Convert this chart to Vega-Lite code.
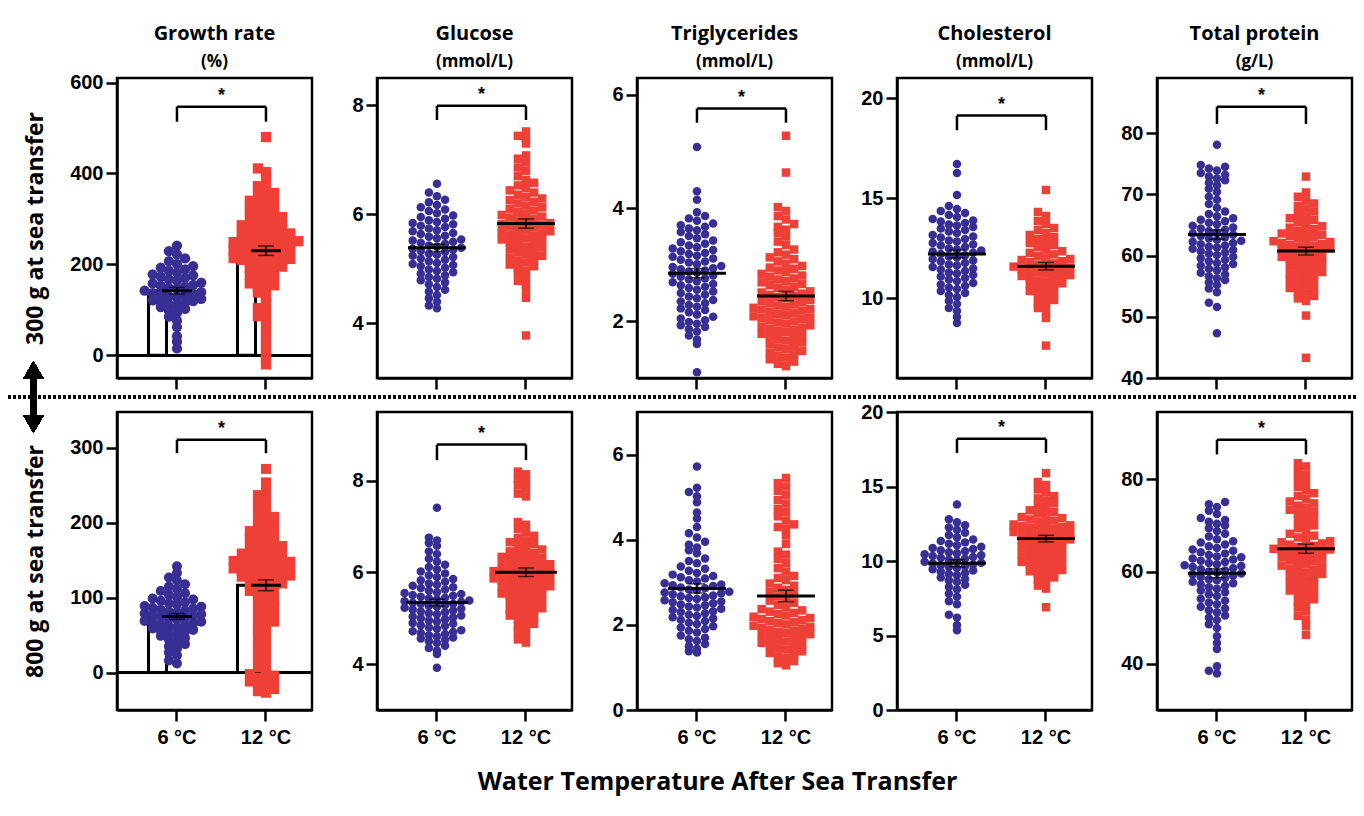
{
"$schema":"https://vega.github.io/schema/vega-lite/v6.json",
"background":"white",
"padding":{"left":5,"top":22,"right":6,"bottom":6},
"config":{
 "font":"Liberation Sans",
 "view":{"stroke":"black","strokeWidth":2.5},
 "axis":{"domainColor":"black","domainWidth":2.5,"tickColor":"black","tickWidth":2.5,"tickSize":11,"labelFont":"Liberation Sans","labelFontSize":20,"labelFontWeight":"bold","labelColor":"black","labelPadding":3,"grid":false,"titleFont":"Open Sans","titleFontWeight":"bold","titleColor":"black","titleFontSize":23},
 "axisX":{"labelAngle":0,"labelPadding":6},
 "title":{"font":"Open Sans","fontSize":20,"fontWeight":"bold","color":"black","subtitleFont":"Open Sans","subtitleFontSize":17,"subtitleFontWeight":"bold","subtitleColor":"black","offset":8,"subtitlePadding":10,"anchor":"middle","frame":"group"}
},
"datasets":{
"gr1":[{"t":"6","v":241},{"t":"6","v":222},{"t":"6","v":229},{"t":"6","v":201},{"t":"6","v":207},{"t":"6","v":213},{"t":"6","v":182},{"t":"6","v":186},{"t":"6","v":189},{"t":"6","v":193},{"t":"6","v":196},{"t":"6","v":164},{"t":"6","v":167},{"t":"6","v":170},{"t":"6","v":173},{"t":"6","v":176},{"t":"6","v":178},{"t":"6","v":146},{"t":"6","v":148},{"t":"6","v":151},{"t":"6","v":153},{"t":"6","v":155},{"t":"6","v":158},{"t":"6","v":160},{"t":"6","v":127},{"t":"6","v":129},{"t":"6","v":131},{"t":"6","v":133},{"t":"6","v":135},{"t":"6","v":137},{"t":"6","v":139},{"t":"6","v":142},{"t":"6","v":110},{"t":"6","v":112},{"t":"6","v":115},{"t":"6","v":117},{"t":"6","v":119},{"t":"6","v":121},{"t":"6","v":124},{"t":"6","v":93},{"t":"6","v":98},{"t":"6","v":102},{"t":"6","v":106},{"t":"6","v":76},{"t":"6","v":85},{"t":"6","v":62},{"t":"6","v":42},{"t":"6","v":30},{"t":"6","v":15},
{"t":"12","v":480},{"t":"12","v":403},{"t":"12","v":411},{"t":"12","v":386},{"t":"12","v":364},{"t":"12","v":372},{"t":"12","v":345},{"t":"12","v":351},{"t":"12","v":357},{"t":"12","v":326},{"t":"12","v":331},{"t":"12","v":336},{"t":"12","v":340},{"t":"12","v":308},{"t":"12","v":312},{"t":"12","v":317},{"t":"12","v":321},{"t":"12","v":290},{"t":"12","v":293},{"t":"12","v":297},{"t":"12","v":300},{"t":"12","v":304},{"t":"12","v":271},{"t":"12","v":274},{"t":"12","v":277},{"t":"12","v":280},{"t":"12","v":283},{"t":"12","v":286},{"t":"12","v":253},{"t":"12","v":256},{"t":"12","v":258},{"t":"12","v":261},{"t":"12","v":263},{"t":"12","v":266},{"t":"12","v":268},{"t":"12","v":235},{"t":"12","v":237},{"t":"12","v":239},{"t":"12","v":241},{"t":"12","v":243},{"t":"12","v":245},{"t":"12","v":247},{"t":"12","v":249},{"t":"12","v":251},{"t":"12","v":217},{"t":"12","v":219},{"t":"12","v":222},{"t":"12","v":224},{"t":"12","v":226},{"t":"12","v":228},{"t":"12","v":230},{"t":"12","v":232},{"t":"12","v":199},{"t":"12","v":201},{"t":"12","v":204},{"t":"12","v":206},{"t":"12","v":208},{"t":"12","v":210},{"t":"12","v":212},{"t":"12","v":214},{"t":"12","v":182},{"t":"12","v":186},{"t":"12","v":189},{"t":"12","v":192},{"t":"12","v":195},{"t":"12","v":164},{"t":"12","v":168},{"t":"12","v":172},{"t":"12","v":176},{"t":"12","v":146},{"t":"12","v":150},{"t":"12","v":154},{"t":"12","v":158},{"t":"12","v":130},{"t":"12","v":138},{"t":"12","v":117},{"t":"12","v":99},{"t":"12","v":104},{"t":"12","v":81},{"t":"12","v":86},{"t":"12","v":63},{"t":"12","v":45},{"t":"12","v":27},{"t":"12","v":9},{"t":"12","v":-5},{"t":"12","v":-20}],
"glu1":[{"t":"6","v":4.28},{"t":"6","v":4.33},{"t":"6","v":4.4},{"t":"6","v":4.46},{"t":"6","v":4.52},{"t":"6","v":4.58},{"t":"6","v":4.62},{"t":"6","v":4.67},{"t":"6","v":4.72},{"t":"6","v":4.75},{"t":"6","v":4.79},{"t":"6","v":4.82},{"t":"6","v":4.85},{"t":"6","v":4.88},{"t":"6","v":4.91},{"t":"6","v":4.94},{"t":"6","v":4.96},{"t":"6","v":4.99},{"t":"6","v":5.02},{"t":"6","v":5.05},{"t":"6","v":5.07},{"t":"6","v":5.09},{"t":"6","v":5.11},{"t":"6","v":5.14},{"t":"6","v":5.17},{"t":"6","v":5.19},{"t":"6","v":5.22},{"t":"6","v":5.24},{"t":"6","v":5.26},{"t":"6","v":5.28},{"t":"6","v":5.31},{"t":"6","v":5.33},{"t":"6","v":5.35},{"t":"6","v":5.37},{"t":"6","v":5.39},{"t":"6","v":5.41},{"t":"6","v":5.43},{"t":"6","v":5.46},{"t":"6","v":5.48},{"t":"6","v":5.5},{"t":"6","v":5.52},{"t":"6","v":5.54},{"t":"6","v":5.56},{"t":"6","v":5.59},{"t":"6","v":5.61},{"t":"6","v":5.64},{"t":"6","v":5.66},{"t":"6","v":5.69},{"t":"6","v":5.71},{"t":"6","v":5.74},{"t":"6","v":5.77},{"t":"6","v":5.79},{"t":"6","v":5.82},{"t":"6","v":5.84},{"t":"6","v":5.86},{"t":"6","v":5.89},{"t":"6","v":5.92},{"t":"6","v":5.95},{"t":"6","v":5.98},{"t":"6","v":6.02},{"t":"6","v":6.06},{"t":"6","v":6.09},{"t":"6","v":6.13},{"t":"6","v":6.17},{"t":"6","v":6.22},{"t":"6","v":6.27},{"t":"6","v":6.33},{"t":"6","v":6.4},{"t":"6","v":6.56},
{"t":"12","v":3.78},{"t":"12","v":4.47},{"t":"12","v":4.6},{"t":"12","v":4.72},{"t":"12","v":4.78},{"t":"12","v":4.85},{"t":"12","v":4.92},{"t":"12","v":4.97},{"t":"12","v":5.01},{"t":"12","v":5.05},{"t":"12","v":5.08},{"t":"12","v":5.12},{"t":"12","v":5.15},{"t":"12","v":5.18},{"t":"12","v":5.21},{"t":"12","v":5.24},{"t":"12","v":5.27},{"t":"12","v":5.3},{"t":"12","v":5.33},{"t":"12","v":5.36},{"t":"12","v":5.39},{"t":"12","v":5.41},{"t":"12","v":5.44},{"t":"12","v":5.47},{"t":"12","v":5.5},{"t":"12","v":5.52},{"t":"12","v":5.54},{"t":"12","v":5.56},{"t":"12","v":5.58},{"t":"12","v":5.61},{"t":"12","v":5.63},{"t":"12","v":5.65},{"t":"12","v":5.67},{"t":"12","v":5.69},{"t":"12","v":5.71},{"t":"12","v":5.73},{"t":"12","v":5.76},{"t":"12","v":5.78},{"t":"12","v":5.8},{"t":"12","v":5.82},{"t":"12","v":5.84},{"t":"12","v":5.86},{"t":"12","v":5.89},{"t":"12","v":5.91},{"t":"12","v":5.94},{"t":"12","v":5.96},{"t":"12","v":5.99},{"t":"12","v":6.01},{"t":"12","v":6.04},{"t":"12","v":6.07},{"t":"12","v":6.1},{"t":"12","v":6.13},{"t":"12","v":6.16},{"t":"12","v":6.2},{"t":"12","v":6.23},{"t":"12","v":6.26},{"t":"12","v":6.29},{"t":"12","v":6.32},{"t":"12","v":6.36},{"t":"12","v":6.4},{"t":"12","v":6.44},{"t":"12","v":6.48},{"t":"12","v":6.53},{"t":"12","v":6.58},{"t":"12","v":6.63},{"t":"12","v":6.7},{"t":"12","v":6.8},{"t":"12","v":6.86},{"t":"12","v":6.95},{"t":"12","v":7.02},{"t":"12","v":7.08},{"t":"12","v":7.3},{"t":"12","v":7.38},{"t":"12","v":7.44},{"t":"12","v":7.52}],
"tri1":[{"t":"6","v":5.08},{"t":"6","v":4.3},{"t":"6","v":4.15},{"t":"6","v":3.93},{"t":"6","v":3.78},{"t":"6","v":3.82},{"t":"6","v":3.86},{"t":"6","v":3.61},{"t":"6","v":3.64},{"t":"6","v":3.67},{"t":"6","v":3.7},{"t":"6","v":3.73},{"t":"6","v":3.47},{"t":"6","v":3.51},{"t":"6","v":3.54},{"t":"6","v":3.58},{"t":"6","v":3.31},{"t":"6","v":3.34},{"t":"6","v":3.37},{"t":"6","v":3.4},{"t":"6","v":3.43},{"t":"6","v":3.16},{"t":"6","v":3.19},{"t":"6","v":3.21},{"t":"6","v":3.24},{"t":"6","v":3.26},{"t":"6","v":3.29},{"t":"6","v":3.01},{"t":"6","v":3.04},{"t":"6","v":3.06},{"t":"6","v":3.09},{"t":"6","v":3.11},{"t":"6","v":3.14},{"t":"6","v":2.86},{"t":"6","v":2.88},{"t":"6","v":2.9},{"t":"6","v":2.92},{"t":"6","v":2.94},{"t":"6","v":2.96},{"t":"6","v":2.98},{"t":"6","v":2.71},{"t":"6","v":2.74},{"t":"6","v":2.76},{"t":"6","v":2.79},{"t":"6","v":2.81},{"t":"6","v":2.84},{"t":"6","v":2.56},{"t":"6","v":2.59},{"t":"6","v":2.61},{"t":"6","v":2.64},{"t":"6","v":2.66},{"t":"6","v":2.69},{"t":"6","v":2.41},{"t":"6","v":2.44},{"t":"6","v":2.47},{"t":"6","v":2.5},{"t":"6","v":2.53},{"t":"6","v":2.26},{"t":"6","v":2.29},{"t":"6","v":2.32},{"t":"6","v":2.35},{"t":"6","v":2.38},{"t":"6","v":2.12},{"t":"6","v":2.16},{"t":"6","v":2.2},{"t":"6","v":2.23},{"t":"6","v":1.96},{"t":"6","v":1.99},{"t":"6","v":2.02},{"t":"6","v":2.05},{"t":"6","v":2.08},{"t":"6","v":1.82},{"t":"6","v":1.86},{"t":"6","v":1.9},{"t":"6","v":1.93},{"t":"6","v":1.68},{"t":"6","v":1.75},{"t":"6","v":1.6},{"t":"6","v":1.1},
{"t":"12","v":5.28},{"t":"12","v":4.63},{"t":"12","v":3.95},{"t":"12","v":4.02},{"t":"12","v":3.8},{"t":"12","v":3.86},{"t":"12","v":3.62},{"t":"12","v":3.67},{"t":"12","v":3.72},{"t":"12","v":3.5},{"t":"12","v":3.56},{"t":"12","v":3.35},{"t":"12","v":3.41},{"t":"12","v":3.18},{"t":"12","v":3.22},{"t":"12","v":3.27},{"t":"12","v":3.02},{"t":"12","v":3.06},{"t":"12","v":3.1},{"t":"12","v":3.13},{"t":"12","v":2.87},{"t":"12","v":2.9},{"t":"12","v":2.93},{"t":"12","v":2.95},{"t":"12","v":2.98},{"t":"12","v":2.71},{"t":"12","v":2.74},{"t":"12","v":2.76},{"t":"12","v":2.79},{"t":"12","v":2.81},{"t":"12","v":2.84},{"t":"12","v":2.56},{"t":"12","v":2.59},{"t":"12","v":2.61},{"t":"12","v":2.64},{"t":"12","v":2.66},{"t":"12","v":2.69},{"t":"12","v":2.41},{"t":"12","v":2.43},{"t":"12","v":2.45},{"t":"12","v":2.47},{"t":"12","v":2.49},{"t":"12","v":2.51},{"t":"12","v":2.53},{"t":"12","v":2.26},{"t":"12","v":2.28},{"t":"12","v":2.3},{"t":"12","v":2.32},{"t":"12","v":2.34},{"t":"12","v":2.36},{"t":"12","v":2.38},{"t":"12","v":2.11},{"t":"12","v":2.13},{"t":"12","v":2.15},{"t":"12","v":2.17},{"t":"12","v":2.19},{"t":"12","v":2.21},{"t":"12","v":2.22},{"t":"12","v":2.24},{"t":"12","v":1.96},{"t":"12","v":1.98},{"t":"12","v":2.0},{"t":"12","v":2.02},{"t":"12","v":2.04},{"t":"12","v":2.06},{"t":"12","v":2.07},{"t":"12","v":2.09},{"t":"12","v":1.81},{"t":"12","v":1.83},{"t":"12","v":1.85},{"t":"12","v":1.87},{"t":"12","v":1.89},{"t":"12","v":1.91},{"t":"12","v":1.93},{"t":"12","v":1.66},{"t":"12","v":1.69},{"t":"12","v":1.71},{"t":"12","v":1.74},{"t":"12","v":1.76},{"t":"12","v":1.78},{"t":"12","v":1.51},{"t":"12","v":1.54},{"t":"12","v":1.57},{"t":"12","v":1.6},{"t":"12","v":1.63},{"t":"12","v":1.36},{"t":"12","v":1.39},{"t":"12","v":1.42},{"t":"12","v":1.45},{"t":"12","v":1.48},{"t":"12","v":1.21},{"t":"12","v":1.25},{"t":"12","v":1.29},{"t":"12","v":1.33}],
"cho1":[{"t":"6","v":16.7},{"t":"6","v":16.25},{"t":"6","v":15.15},{"t":"6","v":14.45},{"t":"6","v":14.6},{"t":"6","v":14.05},{"t":"6","v":14.15},{"t":"6","v":14.25},{"t":"6","v":14.35},{"t":"6","v":13.62},{"t":"6","v":13.68},{"t":"6","v":13.75},{"t":"6","v":13.82},{"t":"6","v":13.88},{"t":"6","v":13.95},{"t":"6","v":13.25},{"t":"6","v":13.32},{"t":"6","v":13.4},{"t":"6","v":13.47},{"t":"6","v":13.55},{"t":"6","v":12.82},{"t":"6","v":12.88},{"t":"6","v":12.95},{"t":"6","v":13.02},{"t":"6","v":13.08},{"t":"6","v":13.15},{"t":"6","v":12.42},{"t":"6","v":12.48},{"t":"6","v":12.55},{"t":"6","v":12.62},{"t":"6","v":12.68},{"t":"6","v":12.75},{"t":"6","v":12.02},{"t":"6","v":12.08},{"t":"6","v":12.14},{"t":"6","v":12.2},{"t":"6","v":12.26},{"t":"6","v":12.32},{"t":"6","v":12.38},{"t":"6","v":11.62},{"t":"6","v":11.68},{"t":"6","v":11.75},{"t":"6","v":11.82},{"t":"6","v":11.88},{"t":"6","v":11.95},{"t":"6","v":11.22},{"t":"6","v":11.28},{"t":"6","v":11.35},{"t":"6","v":11.42},{"t":"6","v":11.48},{"t":"6","v":11.55},{"t":"6","v":10.85},{"t":"6","v":10.92},{"t":"6","v":11.0},{"t":"6","v":11.08},{"t":"6","v":11.15},{"t":"6","v":10.45},{"t":"6","v":10.52},{"t":"6","v":10.6},{"t":"6","v":10.68},{"t":"6","v":10.75},{"t":"6","v":10.05},{"t":"6","v":10.15},{"t":"6","v":10.25},{"t":"6","v":10.35},{"t":"6","v":9.7},{"t":"6","v":9.85},{"t":"6","v":9.35},{"t":"6","v":9.5},{"t":"6","v":9.05},{"t":"6","v":8.75},
{"t":"12","v":15.4},{"t":"12","v":14.1},{"t":"12","v":14.3},{"t":"12","v":13.7},{"t":"12","v":13.85},{"t":"12","v":13.25},{"t":"12","v":13.4},{"t":"12","v":13.5},{"t":"12","v":12.85},{"t":"12","v":12.95},{"t":"12","v":13.05},{"t":"12","v":13.15},{"t":"12","v":12.45},{"t":"12","v":12.55},{"t":"12","v":12.65},{"t":"12","v":12.75},{"t":"12","v":12.03},{"t":"12","v":12.1},{"t":"12","v":12.18},{"t":"12","v":12.26},{"t":"12","v":12.34},{"t":"12","v":11.62},{"t":"12","v":11.67},{"t":"12","v":11.73},{"t":"12","v":11.79},{"t":"12","v":11.84},{"t":"12","v":11.9},{"t":"12","v":11.95},{"t":"12","v":11.22},{"t":"12","v":11.27},{"t":"12","v":11.32},{"t":"12","v":11.37},{"t":"12","v":11.42},{"t":"12","v":11.47},{"t":"12","v":11.52},{"t":"12","v":11.57},{"t":"12","v":10.82},{"t":"12","v":10.87},{"t":"12","v":10.93},{"t":"12","v":10.99},{"t":"12","v":11.04},{"t":"12","v":11.1},{"t":"12","v":11.15},{"t":"12","v":10.45},{"t":"12","v":10.53},{"t":"12","v":10.6},{"t":"12","v":10.67},{"t":"12","v":10.74},{"t":"12","v":10.05},{"t":"12","v":10.15},{"t":"12","v":10.25},{"t":"12","v":10.35},{"t":"12","v":9.7},{"t":"12","v":9.8},{"t":"12","v":9.9},{"t":"12","v":9.3},{"t":"12","v":9.5},{"t":"12","v":9.0},{"t":"12","v":7.62}],
"pro1":[{"t":"6","v":78.1},{"t":"6","v":73.9},{"t":"6","v":74.2},{"t":"6","v":74.5},{"t":"6","v":74.8},{"t":"6","v":72.6},{"t":"6","v":72.9},{"t":"6","v":73.2},{"t":"6","v":73.5},{"t":"6","v":71.5},{"t":"6","v":71.9},{"t":"6","v":72.3},{"t":"6","v":70.4},{"t":"6","v":70.9},{"t":"6","v":69.1},{"t":"6","v":69.6},{"t":"6","v":67.8},{"t":"6","v":68.4},{"t":"6","v":66.4},{"t":"6","v":66.8},{"t":"6","v":67.2},{"t":"6","v":65.1},{"t":"6","v":65.35},{"t":"6","v":65.6},{"t":"6","v":65.85},{"t":"6","v":66.1},{"t":"6","v":63.8},{"t":"6","v":64},{"t":"6","v":64.2},{"t":"6","v":64.4},{"t":"6","v":64.6},{"t":"6","v":64.85},{"t":"6","v":62.6},{"t":"6","v":62.8},{"t":"6","v":63},{"t":"6","v":63.2},{"t":"6","v":63.4},{"t":"6","v":63.6},{"t":"6","v":61.3},{"t":"6","v":61.45},{"t":"6","v":61.65},{"t":"6","v":61.85},{"t":"6","v":62.05},{"t":"6","v":62.25},{"t":"6","v":62.4},{"t":"6","v":60.1},{"t":"6","v":60.3},{"t":"6","v":60.5},{"t":"6","v":60.7},{"t":"6","v":60.9},{"t":"6","v":61.1},{"t":"6","v":58.8},{"t":"6","v":59.05},{"t":"6","v":59.3},{"t":"6","v":59.55},{"t":"6","v":59.8},{"t":"6","v":57.6},{"t":"6","v":57.85},{"t":"6","v":58.1},{"t":"6","v":58.35},{"t":"6","v":58.6},{"t":"6","v":56.3},{"t":"6","v":56.6},{"t":"6","v":56.9},{"t":"6","v":57.2},{"t":"6","v":55.2},{"t":"6","v":55.6},{"t":"6","v":56},{"t":"6","v":54},{"t":"6","v":54.6},{"t":"6","v":51.6},{"t":"6","v":52.3},{"t":"6","v":47.3},
{"t":"12","v":72.9},{"t":"12","v":70.3},{"t":"12","v":69},{"t":"12","v":69.6},{"t":"12","v":67.7},{"t":"12","v":68.1},{"t":"12","v":68.5},{"t":"12","v":66.4},{"t":"12","v":66.8},{"t":"12","v":67.2},{"t":"12","v":65.1},{"t":"12","v":65.45},{"t":"12","v":65.8},{"t":"12","v":66.1},{"t":"12","v":63.8},{"t":"12","v":64.05},{"t":"12","v":64.3},{"t":"12","v":64.55},{"t":"12","v":64.8},{"t":"12","v":62.6},{"t":"12","v":62.8},{"t":"12","v":63},{"t":"12","v":63.2},{"t":"12","v":63.4},{"t":"12","v":63.6},{"t":"12","v":61.3},{"t":"12","v":61.45},{"t":"12","v":61.6},{"t":"12","v":61.75},{"t":"12","v":61.9},{"t":"12","v":62.05},{"t":"12","v":62.2},{"t":"12","v":62.35},{"t":"12","v":60.1},{"t":"12","v":60.25},{"t":"12","v":60.45},{"t":"12","v":60.65},{"t":"12","v":60.85},{"t":"12","v":61},{"t":"12","v":61.15},{"t":"12","v":58.8},{"t":"12","v":59},{"t":"12","v":59.2},{"t":"12","v":59.4},{"t":"12","v":59.6},{"t":"12","v":59.8},{"t":"12","v":57.6},{"t":"12","v":57.85},{"t":"12","v":58.1},{"t":"12","v":58.35},{"t":"12","v":58.6},{"t":"12","v":56.3},{"t":"12","v":56.55},{"t":"12","v":56.8},{"t":"12","v":57.05},{"t":"12","v":57.3},{"t":"12","v":55.1},{"t":"12","v":55.4},{"t":"12","v":55.7},{"t":"12","v":56},{"t":"12","v":53.8},{"t":"12","v":54.1},{"t":"12","v":54.4},{"t":"12","v":54.7},{"t":"12","v":52.6},{"t":"12","v":53},{"t":"12","v":53.4},{"t":"12","v":50.2},{"t":"12","v":43.3}],
"gr2":[{"t":"6","v":142},{"t":"6","v":133},{"t":"6","v":123},{"t":"6","v":127},{"t":"6","v":112},{"t":"6","v":115},{"t":"6","v":118},{"t":"6","v":101},{"t":"6","v":104},{"t":"6","v":106},{"t":"6","v":109},{"t":"6","v":91},{"t":"6","v":92.5},{"t":"6","v":94},{"t":"6","v":96},{"t":"6","v":97.5},{"t":"6","v":99},{"t":"6","v":80.5},{"t":"6","v":81.5},{"t":"6","v":83},{"t":"6","v":84},{"t":"6","v":85.5},{"t":"6","v":86.5},{"t":"6","v":88},{"t":"6","v":89},{"t":"6","v":70.5},{"t":"6","v":71.5},{"t":"6","v":73},{"t":"6","v":74},{"t":"6","v":75.5},{"t":"6","v":76.5},{"t":"6","v":78},{"t":"6","v":79},{"t":"6","v":60.5},{"t":"6","v":61.5},{"t":"6","v":63},{"t":"6","v":64},{"t":"6","v":65.5},{"t":"6","v":66.5},{"t":"6","v":68},{"t":"6","v":69},{"t":"6","v":51},{"t":"6","v":53},{"t":"6","v":55},{"t":"6","v":56},{"t":"6","v":57},{"t":"6","v":59},{"t":"6","v":41},{"t":"6","v":44},{"t":"6","v":46},{"t":"6","v":49},{"t":"6","v":32},{"t":"6","v":35},{"t":"6","v":38},{"t":"6","v":23},{"t":"6","v":27},{"t":"6","v":12},{"t":"6","v":16},
{"t":"12","v":272},{"t":"12","v":254},{"t":"12","v":245},{"t":"12","v":232},{"t":"12","v":237},{"t":"12","v":222},{"t":"12","v":227},{"t":"12","v":212},{"t":"12","v":217},{"t":"12","v":201},{"t":"12","v":204},{"t":"12","v":208},{"t":"12","v":191},{"t":"12","v":194},{"t":"12","v":198},{"t":"12","v":181},{"t":"12","v":184},{"t":"12","v":186},{"t":"12","v":189},{"t":"12","v":171},{"t":"12","v":174},{"t":"12","v":176},{"t":"12","v":179},{"t":"12","v":161},{"t":"12","v":163},{"t":"12","v":165},{"t":"12","v":167},{"t":"12","v":169},{"t":"12","v":151},{"t":"12","v":152.5},{"t":"12","v":154},{"t":"12","v":156},{"t":"12","v":157.5},{"t":"12","v":159},{"t":"12","v":140.5},{"t":"12","v":141.5},{"t":"12","v":143},{"t":"12","v":144},{"t":"12","v":145.5},{"t":"12","v":146.5},{"t":"12","v":148},{"t":"12","v":149},{"t":"12","v":130.5},{"t":"12","v":131.5},{"t":"12","v":133},{"t":"12","v":134},{"t":"12","v":135.5},{"t":"12","v":136.5},{"t":"12","v":138},{"t":"12","v":139},{"t":"12","v":121},{"t":"12","v":122.5},{"t":"12","v":124},{"t":"12","v":125.5},{"t":"12","v":127},{"t":"12","v":128},{"t":"12","v":129.5},{"t":"12","v":111},{"t":"12","v":113},{"t":"12","v":115},{"t":"12","v":117},{"t":"12","v":119},{"t":"12","v":101},{"t":"12","v":104},{"t":"12","v":106},{"t":"12","v":109},{"t":"12","v":92},{"t":"12","v":95},{"t":"12","v":98},{"t":"12","v":82},{"t":"12","v":85},{"t":"12","v":88},{"t":"12","v":72},{"t":"12","v":75},{"t":"12","v":78},{"t":"12","v":62},{"t":"12","v":65},{"t":"12","v":68},{"t":"12","v":53},{"t":"12","v":57},{"t":"12","v":43},{"t":"12","v":47},{"t":"12","v":33},{"t":"12","v":37},{"t":"12","v":23},{"t":"12","v":27},{"t":"12","v":13},{"t":"12","v":17},{"t":"12","v":3},{"t":"12","v":7},{"t":"12","v":-9},{"t":"12","v":-7},{"t":"12","v":-4},{"t":"12","v":-2},{"t":"12","v":-19},{"t":"12","v":-17},{"t":"12","v":-14},{"t":"12","v":-12},{"t":"12","v":-27},{"t":"12","v":-25},{"t":"12","v":-22}],
"glu2":[{"t":"6","v":7.41},{"t":"6","v":6.7},{"t":"6","v":6.76},{"t":"6","v":6.58},{"t":"6","v":6.64},{"t":"6","v":6.4},{"t":"6","v":6.46},{"t":"6","v":6.24},{"t":"6","v":6.3},{"t":"6","v":6.07},{"t":"6","v":6.12},{"t":"6","v":6.17},{"t":"6","v":5.9},{"t":"6","v":5.94},{"t":"6","v":5.98},{"t":"6","v":6.02},{"t":"6","v":5.73},{"t":"6","v":5.76},{"t":"6","v":5.8},{"t":"6","v":5.83},{"t":"6","v":5.86},{"t":"6","v":5.57},{"t":"6","v":5.6},{"t":"6","v":5.63},{"t":"6","v":5.66},{"t":"6","v":5.68},{"t":"6","v":5.71},{"t":"6","v":5.41},{"t":"6","v":5.43},{"t":"6","v":5.45},{"t":"6","v":5.47},{"t":"6","v":5.49},{"t":"6","v":5.51},{"t":"6","v":5.53},{"t":"6","v":5.55},{"t":"6","v":5.25},{"t":"6","v":5.27},{"t":"6","v":5.29},{"t":"6","v":5.31},{"t":"6","v":5.32},{"t":"6","v":5.34},{"t":"6","v":5.36},{"t":"6","v":5.37},{"t":"6","v":5.39},{"t":"6","v":5.09},{"t":"6","v":5.11},{"t":"6","v":5.13},{"t":"6","v":5.15},{"t":"6","v":5.17},{"t":"6","v":5.19},{"t":"6","v":5.21},{"t":"6","v":5.23},{"t":"6","v":4.93},{"t":"6","v":4.95},{"t":"6","v":4.98},{"t":"6","v":5.0},{"t":"6","v":5.02},{"t":"6","v":5.04},{"t":"6","v":5.06},{"t":"6","v":4.77},{"t":"6","v":4.8},{"t":"6","v":4.83},{"t":"6","v":4.85},{"t":"6","v":4.88},{"t":"6","v":4.9},{"t":"6","v":4.61},{"t":"6","v":4.63},{"t":"6","v":4.66},{"t":"6","v":4.68},{"t":"6","v":4.7},{"t":"6","v":4.72},{"t":"6","v":4.74},{"t":"6","v":4.46},{"t":"6","v":4.5},{"t":"6","v":4.53},{"t":"6","v":4.56},{"t":"6","v":4.58},{"t":"6","v":4.3},{"t":"6","v":4.35},{"t":"6","v":4.4},{"t":"6","v":4.22},{"t":"6","v":3.92},
{"t":"12","v":8.14},{"t":"12","v":8.2},{"t":"12","v":7.98},{"t":"12","v":8.05},{"t":"12","v":7.83},{"t":"12","v":7.9},{"t":"12","v":7.66},{"t":"12","v":7.72},{"t":"12","v":7.04},{"t":"12","v":7.1},{"t":"12","v":6.88},{"t":"12","v":6.95},{"t":"12","v":6.7},{"t":"12","v":6.75},{"t":"12","v":6.8},{"t":"12","v":6.54},{"t":"12","v":6.58},{"t":"12","v":6.62},{"t":"12","v":6.66},{"t":"12","v":6.37},{"t":"12","v":6.4},{"t":"12","v":6.43},{"t":"12","v":6.46},{"t":"12","v":6.5},{"t":"12","v":6.21},{"t":"12","v":6.24},{"t":"12","v":6.27},{"t":"12","v":6.3},{"t":"12","v":6.32},{"t":"12","v":6.34},{"t":"12","v":6.05},{"t":"12","v":6.07},{"t":"12","v":6.1},{"t":"12","v":6.12},{"t":"12","v":6.14},{"t":"12","v":6.16},{"t":"12","v":6.18},{"t":"12","v":5.89},{"t":"12","v":5.91},{"t":"12","v":5.93},{"t":"12","v":5.95},{"t":"12","v":5.97},{"t":"12","v":5.99},{"t":"12","v":6.01},{"t":"12","v":6.03},{"t":"12","v":5.73},{"t":"12","v":5.75},{"t":"12","v":5.77},{"t":"12","v":5.79},{"t":"12","v":5.81},{"t":"12","v":5.83},{"t":"12","v":5.85},{"t":"12","v":5.87},{"t":"12","v":5.57},{"t":"12","v":5.59},{"t":"12","v":5.62},{"t":"12","v":5.64},{"t":"12","v":5.66},{"t":"12","v":5.68},{"t":"12","v":5.7},{"t":"12","v":5.41},{"t":"12","v":5.44},{"t":"12","v":5.47},{"t":"12","v":5.49},{"t":"12","v":5.52},{"t":"12","v":5.54},{"t":"12","v":5.26},{"t":"12","v":5.29},{"t":"12","v":5.32},{"t":"12","v":5.35},{"t":"12","v":5.38},{"t":"12","v":5.1},{"t":"12","v":5.13},{"t":"12","v":5.16},{"t":"12","v":5.19},{"t":"12","v":5.22},{"t":"12","v":4.94},{"t":"12","v":4.98},{"t":"12","v":5.02},{"t":"12","v":5.06},{"t":"12","v":4.78},{"t":"12","v":4.83},{"t":"12","v":4.88},{"t":"12","v":4.64},{"t":"12","v":4.7},{"t":"12","v":4.47},{"t":"12","v":4.54}],
"tri2":[{"t":"6","v":5.72},{"t":"6","v":5.22},{"t":"6","v":5.02},{"t":"6","v":5.12},{"t":"6","v":4.88},{"t":"6","v":4.64},{"t":"6","v":4.5},{"t":"6","v":4.3},{"t":"6","v":4.05},{"t":"6","v":4.15},{"t":"6","v":3.82},{"t":"6","v":3.88},{"t":"6","v":3.95},{"t":"6","v":3.68},{"t":"6","v":3.75},{"t":"6","v":3.45},{"t":"6","v":3.5},{"t":"6","v":3.56},{"t":"6","v":3.22},{"t":"6","v":3.27},{"t":"6","v":3.32},{"t":"6","v":3.37},{"t":"6","v":3.02},{"t":"6","v":3.05},{"t":"6","v":3.09},{"t":"6","v":3.12},{"t":"6","v":3.15},{"t":"6","v":3.18},{"t":"6","v":2.81},{"t":"6","v":2.83},{"t":"6","v":2.86},{"t":"6","v":2.88},{"t":"6","v":2.91},{"t":"6","v":2.93},{"t":"6","v":2.95},{"t":"6","v":2.98},{"t":"6","v":2.61},{"t":"6","v":2.63},{"t":"6","v":2.65},{"t":"6","v":2.67},{"t":"6","v":2.69},{"t":"6","v":2.72},{"t":"6","v":2.74},{"t":"6","v":2.76},{"t":"6","v":2.78},{"t":"6","v":2.41},{"t":"6","v":2.43},{"t":"6","v":2.46},{"t":"6","v":2.48},{"t":"6","v":2.51},{"t":"6","v":2.53},{"t":"6","v":2.55},{"t":"6","v":2.58},{"t":"6","v":2.21},{"t":"6","v":2.24},{"t":"6","v":2.27},{"t":"6","v":2.3},{"t":"6","v":2.32},{"t":"6","v":2.35},{"t":"6","v":2.38},{"t":"6","v":2.02},{"t":"6","v":2.05},{"t":"6","v":2.09},{"t":"6","v":2.12},{"t":"6","v":2.15},{"t":"6","v":2.18},{"t":"6","v":1.82},{"t":"6","v":1.86},{"t":"6","v":1.9},{"t":"6","v":1.94},{"t":"6","v":1.97},{"t":"6","v":1.62},{"t":"6","v":1.66},{"t":"6","v":1.7},{"t":"6","v":1.75},{"t":"6","v":1.44},{"t":"6","v":1.5},{"t":"6","v":1.55},{"t":"6","v":1.35},{"t":"6","v":1.38},
{"t":"12","v":5.45},{"t":"12","v":5.25},{"t":"12","v":5.33},{"t":"12","v":5.05},{"t":"12","v":5.15},{"t":"12","v":4.85},{"t":"12","v":4.93},{"t":"12","v":4.65},{"t":"12","v":4.72},{"t":"12","v":4.45},{"t":"12","v":4.55},{"t":"12","v":4.25},{"t":"12","v":4.3},{"t":"12","v":4.36},{"t":"12","v":4.1},{"t":"12","v":3.9},{"t":"12","v":3.65},{"t":"12","v":3.72},{"t":"12","v":3.45},{"t":"12","v":3.55},{"t":"12","v":3.25},{"t":"12","v":3.33},{"t":"12","v":3.05},{"t":"12","v":3.1},{"t":"12","v":3.15},{"t":"12","v":2.82},{"t":"12","v":2.87},{"t":"12","v":2.92},{"t":"12","v":2.97},{"t":"12","v":2.62},{"t":"12","v":2.67},{"t":"12","v":2.72},{"t":"12","v":2.77},{"t":"12","v":2.42},{"t":"12","v":2.47},{"t":"12","v":2.52},{"t":"12","v":2.57},{"t":"12","v":2.22},{"t":"12","v":2.25},{"t":"12","v":2.28},{"t":"12","v":2.31},{"t":"12","v":2.34},{"t":"12","v":2.37},{"t":"12","v":2.01},{"t":"12","v":2.04},{"t":"12","v":2.06},{"t":"12","v":2.09},{"t":"12","v":2.11},{"t":"12","v":2.14},{"t":"12","v":2.16},{"t":"12","v":2.19},{"t":"12","v":1.81},{"t":"12","v":1.83},{"t":"12","v":1.86},{"t":"12","v":1.88},{"t":"12","v":1.91},{"t":"12","v":1.93},{"t":"12","v":1.95},{"t":"12","v":1.98},{"t":"12","v":1.61},{"t":"12","v":1.64},{"t":"12","v":1.67},{"t":"12","v":1.7},{"t":"12","v":1.72},{"t":"12","v":1.75},{"t":"12","v":1.78},{"t":"12","v":1.42},{"t":"12","v":1.45},{"t":"12","v":1.48},{"t":"12","v":1.52},{"t":"12","v":1.55},{"t":"12","v":1.58},{"t":"12","v":1.22},{"t":"12","v":1.26},{"t":"12","v":1.3},{"t":"12","v":1.34},{"t":"12","v":1.38},{"t":"12","v":1.05},{"t":"12","v":1.1},{"t":"12","v":1.15}],
"cho2":[{"t":"6","v":13.8},{"t":"6","v":12.6},{"t":"6","v":12.8},{"t":"6","v":12.1},{"t":"6","v":12.25},{"t":"6","v":12.4},{"t":"6","v":11.6},{"t":"6","v":11.75},{"t":"6","v":11.9},{"t":"6","v":11.05},{"t":"6","v":11.15},{"t":"6","v":11.25},{"t":"6","v":11.35},{"t":"6","v":11.45},{"t":"6","v":10.52},{"t":"6","v":10.58},{"t":"6","v":10.65},{"t":"6","v":10.72},{"t":"6","v":10.8},{"t":"6","v":10.88},{"t":"6","v":10.95},{"t":"6","v":10.03},{"t":"6","v":10.09},{"t":"6","v":10.15},{"t":"6","v":10.21},{"t":"6","v":10.27},{"t":"6","v":10.33},{"t":"6","v":10.39},{"t":"6","v":10.45},{"t":"6","v":9.53},{"t":"6","v":9.59},{"t":"6","v":9.65},{"t":"6","v":9.71},{"t":"6","v":9.77},{"t":"6","v":9.83},{"t":"6","v":9.89},{"t":"6","v":9.95},{"t":"6","v":9.05},{"t":"6","v":9.12},{"t":"6","v":9.2},{"t":"6","v":9.28},{"t":"6","v":9.36},{"t":"6","v":9.44},{"t":"6","v":8.6},{"t":"6","v":8.7},{"t":"6","v":8.8},{"t":"6","v":8.9},{"t":"6","v":8.1},{"t":"6","v":8.25},{"t":"6","v":8.4},{"t":"6","v":7.6},{"t":"6","v":7.8},{"t":"6","v":7.1},{"t":"6","v":7.3},{"t":"6","v":6.2},{"t":"6","v":6.4},{"t":"6","v":5.7},{"t":"6","v":5.35},
{"t":"12","v":15.9},{"t":"12","v":15.1},{"t":"12","v":15.3},{"t":"12","v":14.6},{"t":"12","v":14.8},{"t":"12","v":14.05},{"t":"12","v":14.2},{"t":"12","v":14.35},{"t":"12","v":13.6},{"t":"12","v":13.75},{"t":"12","v":13.9},{"t":"12","v":13.1},{"t":"12","v":13.2},{"t":"12","v":13.3},{"t":"12","v":13.4},{"t":"12","v":12.55},{"t":"12","v":12.63},{"t":"12","v":12.71},{"t":"12","v":12.79},{"t":"12","v":12.87},{"t":"12","v":12.95},{"t":"12","v":12.03},{"t":"12","v":12.09},{"t":"12","v":12.15},{"t":"12","v":12.21},{"t":"12","v":12.27},{"t":"12","v":12.33},{"t":"12","v":12.39},{"t":"12","v":12.45},{"t":"12","v":11.53},{"t":"12","v":11.59},{"t":"12","v":11.65},{"t":"12","v":11.71},{"t":"12","v":11.77},{"t":"12","v":11.83},{"t":"12","v":11.89},{"t":"12","v":11.95},{"t":"12","v":11.04},{"t":"12","v":11.1},{"t":"12","v":11.17},{"t":"12","v":11.24},{"t":"12","v":11.31},{"t":"12","v":11.38},{"t":"12","v":11.45},{"t":"12","v":10.55},{"t":"12","v":10.62},{"t":"12","v":10.7},{"t":"12","v":10.78},{"t":"12","v":10.86},{"t":"12","v":10.94},{"t":"12","v":10.04},{"t":"12","v":10.12},{"t":"12","v":10.2},{"t":"12","v":10.28},{"t":"12","v":10.36},{"t":"12","v":10.44},{"t":"12","v":9.54},{"t":"12","v":9.62},{"t":"12","v":9.7},{"t":"12","v":9.78},{"t":"12","v":9.86},{"t":"12","v":9.94},{"t":"12","v":9.04},{"t":"12","v":9.13},{"t":"12","v":9.22},{"t":"12","v":9.31},{"t":"12","v":9.4},{"t":"12","v":8.6},{"t":"12","v":8.75},{"t":"12","v":8.9},{"t":"12","v":8.15},{"t":"12","v":8.35},{"t":"12","v":6.9}],
"pro2":[{"t":"6","v":74},{"t":"6","v":74.6},{"t":"6","v":75.1},{"t":"6","v":72.5},{"t":"6","v":73.2},{"t":"6","v":70.4},{"t":"6","v":70.8},{"t":"6","v":71.2},{"t":"6","v":71.6},{"t":"6","v":68.8},{"t":"6","v":69.4},{"t":"6","v":70},{"t":"6","v":67},{"t":"6","v":67.6},{"t":"6","v":68.2},{"t":"6","v":65.1},{"t":"6","v":65.5},{"t":"6","v":65.9},{"t":"6","v":66.3},{"t":"6","v":66.6},{"t":"6","v":63.3},{"t":"6","v":63.6},{"t":"6","v":63.9},{"t":"6","v":64.2},{"t":"6","v":64.5},{"t":"6","v":64.8},{"t":"6","v":61.6},{"t":"6","v":61.85},{"t":"6","v":62.1},{"t":"6","v":62.35},{"t":"6","v":62.6},{"t":"6","v":62.85},{"t":"6","v":63.1},{"t":"6","v":59.8},{"t":"6","v":60},{"t":"6","v":60.25},{"t":"6","v":60.5},{"t":"6","v":60.75},{"t":"6","v":61},{"t":"6","v":61.2},{"t":"6","v":61.4},{"t":"6","v":58.1},{"t":"6","v":58.35},{"t":"6","v":58.6},{"t":"6","v":58.85},{"t":"6","v":59.1},{"t":"6","v":59.35},{"t":"6","v":59.6},{"t":"6","v":56.3},{"t":"6","v":56.6},{"t":"6","v":56.9},{"t":"6","v":57.2},{"t":"6","v":57.5},{"t":"6","v":57.8},{"t":"6","v":54.7},{"t":"6","v":55.1},{"t":"6","v":55.5},{"t":"6","v":55.9},{"t":"6","v":52.9},{"t":"6","v":53.3},{"t":"6","v":53.7},{"t":"6","v":54.1},{"t":"6","v":51.2},{"t":"6","v":51.6},{"t":"6","v":52},{"t":"6","v":52.4},{"t":"6","v":49.5},{"t":"6","v":50},{"t":"6","v":50.5},{"t":"6","v":47.8},{"t":"6","v":48.6},{"t":"6","v":46},{"t":"6","v":44.5},{"t":"6","v":43.2},{"t":"6","v":39.5},{"t":"6","v":37.9},{"t":"6","v":38.5},
{"t":"12","v":82.8},{"t":"12","v":83.5},{"t":"12","v":81},{"t":"12","v":81.8},{"t":"12","v":79.3},{"t":"12","v":80.1},{"t":"12","v":77.6},{"t":"12","v":78.4},{"t":"12","v":75.8},{"t":"12","v":76.4},{"t":"12","v":77},{"t":"12","v":73.9},{"t":"12","v":74.3},{"t":"12","v":74.8},{"t":"12","v":75.2},{"t":"12","v":72.2},{"t":"12","v":72.6},{"t":"12","v":73},{"t":"12","v":73.4},{"t":"12","v":70.5},{"t":"12","v":71.1},{"t":"12","v":71.7},{"t":"12","v":68.8},{"t":"12","v":69.4},{"t":"12","v":70},{"t":"12","v":67},{"t":"12","v":67.4},{"t":"12","v":67.8},{"t":"12","v":68.2},{"t":"12","v":65.1},{"t":"12","v":65.35},{"t":"12","v":65.6},{"t":"12","v":65.85},{"t":"12","v":66.1},{"t":"12","v":66.35},{"t":"12","v":66.6},{"t":"12","v":63.3},{"t":"12","v":63.55},{"t":"12","v":63.8},{"t":"12","v":64.05},{"t":"12","v":64.3},{"t":"12","v":64.55},{"t":"12","v":64.8},{"t":"12","v":64.95},{"t":"12","v":61.6},{"t":"12","v":61.9},{"t":"12","v":62.2},{"t":"12","v":62.5},{"t":"12","v":62.8},{"t":"12","v":63.1},{"t":"12","v":59.8},{"t":"12","v":60.1},{"t":"12","v":60.4},{"t":"12","v":60.7},{"t":"12","v":61},{"t":"12","v":61.3},{"t":"12","v":58.1},{"t":"12","v":58.45},{"t":"12","v":58.8},{"t":"12","v":59.15},{"t":"12","v":59.5},{"t":"12","v":56.4},{"t":"12","v":56.8},{"t":"12","v":57.2},{"t":"12","v":57.6},{"t":"12","v":54.7},{"t":"12","v":55.1},{"t":"12","v":55.5},{"t":"12","v":55.9},{"t":"12","v":53},{"t":"12","v":53.5},{"t":"12","v":54},{"t":"12","v":51.4},{"t":"12","v":52.2},{"t":"12","v":49.6},{"t":"12","v":50.4},{"t":"12","v":48.2},{"t":"12","v":46.3}]
},
"columns":5,
"bounds":"flush",
"spacing":{"row":34,"column":65},
"concat":[
{"width":195,"height":300,"title":{"text":"Growth rate","subtitle":"(%)","offset":2.5},"data":{"name":"gr1"},
 "layer":[
  {"mark":{"type":"bar","fill":"white","stroke":"black","strokeWidth":3,"width":{"band":0.64}},
   "encoding":{"x":{"field":"t","type":"nominal","scale":{"domain":["6","12"],"paddingInner":0,"paddingOuter":0.0955,"align":0.91},"axis":{"labels":false,"title":null}},
    "y":{"aggregate":"mean","field":"v","type":"quantitative","title":"300 g at sea transfer","scale":{"domain":[-50,610],"nice":false,"zero":false},"axis":{"values":[0,200,400,600],"format":"d","titlePadding":22}}}},
  {"mark":{"type":"rule","color":"black","strokeWidth":2.5},"encoding":{"y":{"datum":0}}},
  {"transform":[{"bin":{"step":18,"extent":[-54,612],"nice":false},"field":"v","as":"vb"},{"window":[{"op":"row_number","as":"k"}],"groupby":["t","vb"],"sort":[{"field":"v"}]}],
   "mark":{"type":"point","filled":true,"opacity":1,"size":105,"strokeWidth":0},
   "encoding":{"x":{"field":"t","type":"nominal"},"xOffset":{"field":"k","type":"nominal","scale":{"domain":[10,8,6,4,2,1,3,5,7,9,11]}},"y":{"field":"v","type":"quantitative","title":"300 g at sea transfer"},
    "color":{"field":"t","type":"nominal","scale":{"domain":["6","12"],"range":["#372f93","#ee4036"]},"legend":null},
    "shape":{"field":"t","type":"nominal","scale":{"domain":["6","12"],"range":["circle","square"]},"legend":null}}},
  {"mark":{"type":"errorbar","extent":"stderr","color":"black","thickness":1.5,"ticks":{"size":16}},"encoding":{"x":{"field":"t","type":"nominal"},"y":{"field":"v","type":"quantitative","title":"300 g at sea transfer"}}},
  {"mark":{"type":"tick","color":"black","thickness":3,"size":30},"encoding":{"x":{"field":"t","type":"nominal"},"y":{"aggregate":"mean","field":"v","type":"quantitative","title":"300 g at sea transfer"}}},
  {"data":{"values":[{"a":"6","b":"12","y":547,"y0":514}]},"layer":[
   {"mark":{"type":"rule","color":"black","strokeWidth":2.5},"encoding":{"x":{"field":"a","type":"nominal"},"x2":{"field":"b"},"y":{"field":"y","type":"quantitative","title":"300 g at sea transfer"}}},
   {"mark":{"type":"rule","color":"black","strokeWidth":2.5},"encoding":{"x":{"field":"a","type":"nominal"},"y":{"field":"y","type":"quantitative","title":"300 g at sea transfer"},"y2":{"field":"y0"}}},
   {"mark":{"type":"rule","color":"black","strokeWidth":2.5},"encoding":{"x":{"field":"b","type":"nominal"},"y":{"field":"y","type":"quantitative","title":"300 g at sea transfer"},"y2":{"field":"y0"}}},
   {"mark":{"type":"text","text":"*","fontSize":18,"fontWeight":"bold","dx":44.5,"dy":-11,"color":"black"},"encoding":{"x":{"field":"a","type":"nominal"},"y":{"field":"y","type":"quantitative","title":"300 g at sea transfer"}}}]}
 ]},
{"width":195,"height":300,"title":{"text":"Glucose","subtitle":"(mmol/L)"},"data":{"name":"glu1"},
 "layer":[
  {"transform":[{"bin":{"step":0.15,"extent":[3,8.4],"nice":false},"field":"v","as":"vb"},{"window":[{"op":"row_number","as":"k"}],"groupby":["t","vb"],"sort":[{"field":"v"}]}],
   "mark":{"type":"point","filled":true,"opacity":1,"size":72,"strokeWidth":0},
   "encoding":{"x":{"field":"t","type":"nominal","scale":{"domain":["6","12"],"paddingInner":0,"paddingOuter":0.0955,"align":0.91},"axis":{"labels":false,"title":null}},"xOffset":{"field":"k","type":"nominal","scale":{"domain":[10,8,6,4,2,1,3,5,7,9,11]}},
    "y":{"field":"v","type":"quantitative","scale":{"domain":[3,8.5],"nice":false,"zero":false},"axis":{"values":[4,6,8],"format":"d","title":null}},
    "color":{"field":"t","type":"nominal","scale":{"domain":["6","12"],"range":["#372f93","#ee4036"]},"legend":null},
    "shape":{"field":"t","type":"nominal","scale":{"domain":["6","12"],"range":["circle","square"]},"legend":null}}},
  {"mark":{"type":"errorbar","extent":"stderr","color":"black","thickness":1.5,"ticks":{"size":16}},"encoding":{"x":{"field":"t","type":"nominal"},"y":{"field":"v","type":"quantitative"}}},
  {"mark":{"type":"tick","color":"black","thickness":3,"size":58},"encoding":{"x":{"field":"t","type":"nominal"},"y":{"aggregate":"mean","field":"v","type":"quantitative"}}},
  {"data":{"values":[{"a":"6","b":"12","y":7.99,"y0":7.73}]},"layer":[
   {"mark":{"type":"rule","color":"black","strokeWidth":2.5},"encoding":{"x":{"field":"a","type":"nominal"},"x2":{"field":"b"},"y":{"field":"y","type":"quantitative"}}},
   {"mark":{"type":"rule","color":"black","strokeWidth":2.5},"encoding":{"x":{"field":"a","type":"nominal"},"y":{"field":"y","type":"quantitative"},"y2":{"field":"y0"}}},
   {"mark":{"type":"rule","color":"black","strokeWidth":2.5},"encoding":{"x":{"field":"b","type":"nominal"},"y":{"field":"y","type":"quantitative"},"y2":{"field":"y0"}}},
   {"mark":{"type":"text","text":"*","fontSize":18,"fontWeight":"bold","dx":44.5,"dy":-11,"color":"black"},"encoding":{"x":{"field":"a","type":"nominal"},"y":{"field":"y","type":"quantitative"}}}]}
 ]},
{"width":195,"height":300,"title":{"text":"Triglycerides","subtitle":"(mmol/L)"},"data":{"name":"tri1"},
 "layer":[
  {"transform":[{"bin":{"step":0.15,"extent":[0.9,6.3],"nice":false},"field":"v","as":"vb"},{"window":[{"op":"row_number","as":"k"}],"groupby":["t","vb"],"sort":[{"field":"v"}]}],
   "mark":{"type":"point","filled":true,"opacity":1,"size":72,"strokeWidth":0},
   "encoding":{"x":{"field":"t","type":"nominal","scale":{"domain":["6","12"],"paddingInner":0,"paddingOuter":0.0955,"align":0.91},"axis":{"labels":false,"title":null}},"xOffset":{"field":"k","type":"nominal","scale":{"domain":[10,8,6,4,2,1,3,5,7,9,11]}},
    "y":{"field":"v","type":"quantitative","scale":{"domain":[1,6.3],"nice":false,"zero":false},"axis":{"values":[2,4,6],"format":"d","title":null}},
    "color":{"field":"t","type":"nominal","scale":{"domain":["6","12"],"range":["#372f93","#ee4036"]},"legend":null},
    "shape":{"field":"t","type":"nominal","scale":{"domain":["6","12"],"range":["circle","square"]},"legend":null}}},
  {"mark":{"type":"errorbar","extent":"stderr","color":"black","thickness":1.5,"ticks":{"size":16}},"encoding":{"x":{"field":"t","type":"nominal"},"y":{"field":"v","type":"quantitative"}}},
  {"mark":{"type":"tick","color":"black","thickness":3,"size":58},"encoding":{"x":{"field":"t","type":"nominal"},"y":{"aggregate":"mean","field":"v","type":"quantitative"}}},
  {"data":{"values":[{"a":"6","b":"12","y":5.76,"y0":5.51}]},"layer":[
   {"mark":{"type":"rule","color":"black","strokeWidth":2.5},"encoding":{"x":{"field":"a","type":"nominal"},"x2":{"field":"b"},"y":{"field":"y","type":"quantitative"}}},
   {"mark":{"type":"rule","color":"black","strokeWidth":2.5},"encoding":{"x":{"field":"a","type":"nominal"},"y":{"field":"y","type":"quantitative"},"y2":{"field":"y0"}}},
   {"mark":{"type":"rule","color":"black","strokeWidth":2.5},"encoding":{"x":{"field":"b","type":"nominal"},"y":{"field":"y","type":"quantitative"},"y2":{"field":"y0"}}},
   {"mark":{"type":"text","text":"*","fontSize":18,"fontWeight":"bold","dx":44.5,"dy":-11,"color":"black"},"encoding":{"x":{"field":"a","type":"nominal"},"y":{"field":"y","type":"quantitative"}}}]}
 ]},
{"width":195,"height":300,"title":{"text":"Cholesterol","subtitle":"(mmol/L)"},"data":{"name":"cho1"},
 "layer":[
  {"transform":[{"bin":{"step":0.4,"extent":[6,22],"nice":false},"field":"v","as":"vb"},{"window":[{"op":"row_number","as":"k"}],"groupby":["t","vb"],"sort":[{"field":"v"}]}],
   "mark":{"type":"point","filled":true,"opacity":1,"size":72,"strokeWidth":0},
   "encoding":{"x":{"field":"t","type":"nominal","scale":{"domain":["6","12"],"paddingInner":0,"paddingOuter":0.0955,"align":0.91},"axis":{"labels":false,"title":null}},"xOffset":{"field":"k","type":"nominal","scale":{"domain":[10,8,6,4,2,1,3,5,7,9,11]}},
    "y":{"field":"v","type":"quantitative","scale":{"domain":[6,21],"nice":false,"zero":false},"axis":{"values":[10,15,20],"format":"d","title":null}},
    "color":{"field":"t","type":"nominal","scale":{"domain":["6","12"],"range":["#372f93","#ee4036"]},"legend":null},
    "shape":{"field":"t","type":"nominal","scale":{"domain":["6","12"],"range":["circle","square"]},"legend":null}}},
  {"mark":{"type":"errorbar","extent":"stderr","color":"black","thickness":1.5,"ticks":{"size":16}},"encoding":{"x":{"field":"t","type":"nominal"},"y":{"field":"v","type":"quantitative"}}},
  {"mark":{"type":"tick","color":"black","thickness":3,"size":58},"encoding":{"x":{"field":"t","type":"nominal"},"y":{"aggregate":"mean","field":"v","type":"quantitative"}}},
  {"data":{"values":[{"a":"6","b":"12","y":19.12,"y0":18.39}]},"layer":[
   {"mark":{"type":"rule","color":"black","strokeWidth":2.5},"encoding":{"x":{"field":"a","type":"nominal"},"x2":{"field":"b"},"y":{"field":"y","type":"quantitative"}}},
   {"mark":{"type":"rule","color":"black","strokeWidth":2.5},"encoding":{"x":{"field":"a","type":"nominal"},"y":{"field":"y","type":"quantitative"},"y2":{"field":"y0"}}},
   {"mark":{"type":"rule","color":"black","strokeWidth":2.5},"encoding":{"x":{"field":"b","type":"nominal"},"y":{"field":"y","type":"quantitative"},"y2":{"field":"y0"}}},
   {"mark":{"type":"text","text":"*","fontSize":18,"fontWeight":"bold","dx":44.5,"dy":-11,"color":"black"},"encoding":{"x":{"field":"a","type":"nominal"},"y":{"field":"y","type":"quantitative"}}}]}
 ]},
{"width":195,"height":300,"title":{"text":"Total protein","subtitle":"(g/L)"},"data":{"name":"pro1"},
 "layer":[
  {"transform":[{"bin":{"step":1.25,"extent":[40,90],"nice":false},"field":"v","as":"vb"},{"window":[{"op":"row_number","as":"k"}],"groupby":["t","vb"],"sort":[{"field":"v"}]}],
   "mark":{"type":"point","filled":true,"opacity":1,"size":72,"strokeWidth":0},
   "encoding":{"x":{"field":"t","type":"nominal","scale":{"domain":["6","12"],"paddingInner":0,"paddingOuter":0.0955,"align":0.91},"axis":{"labels":false,"title":null}},"xOffset":{"field":"k","type":"nominal","scale":{"domain":[10,8,6,4,2,1,3,5,7,9,11]}},
    "y":{"field":"v","type":"quantitative","scale":{"domain":[40,89],"nice":false,"zero":false},"axis":{"values":[40,50,60,70,80],"format":"d","title":null}},
    "color":{"field":"t","type":"nominal","scale":{"domain":["6","12"],"range":["#372f93","#ee4036"]},"legend":null},
    "shape":{"field":"t","type":"nominal","scale":{"domain":["6","12"],"range":["circle","square"]},"legend":null}}},
  {"mark":{"type":"errorbar","extent":"stderr","color":"black","thickness":1.5,"ticks":{"size":16}},"encoding":{"x":{"field":"t","type":"nominal"},"y":{"field":"v","type":"quantitative"}}},
  {"mark":{"type":"tick","color":"black","thickness":3,"size":58},"encoding":{"x":{"field":"t","type":"nominal"},"y":{"aggregate":"mean","field":"v","type":"quantitative"}}},
  {"data":{"values":[{"a":"6","b":"12","y":84.3,"y0":81.5}]},"layer":[
   {"mark":{"type":"rule","color":"black","strokeWidth":2.5},"encoding":{"x":{"field":"a","type":"nominal"},"x2":{"field":"b"},"y":{"field":"y","type":"quantitative"}}},
   {"mark":{"type":"rule","color":"black","strokeWidth":2.5},"encoding":{"x":{"field":"a","type":"nominal"},"y":{"field":"y","type":"quantitative"},"y2":{"field":"y0"}}},
   {"mark":{"type":"rule","color":"black","strokeWidth":2.5},"encoding":{"x":{"field":"b","type":"nominal"},"y":{"field":"y","type":"quantitative"},"y2":{"field":"y0"}}},
   {"mark":{"type":"text","text":"*","fontSize":18,"fontWeight":"bold","dx":44.5,"dy":-11,"color":"black"},"encoding":{"x":{"field":"a","type":"nominal"},"y":{"field":"y","type":"quantitative"}}}]}
 ]},
{"width":195,"height":298,"data":{"name":"gr2"},
 "layer":[
  {"mark":{"type":"bar","fill":"white","stroke":"black","strokeWidth":3,"width":{"band":0.64}},
   "encoding":{"x":{"field":"t","type":"nominal","scale":{"domain":["6","12"],"paddingInner":0,"paddingOuter":0.0955,"align":0.91},"axis":{"labelExpr":"datum.label + ' °C'","title":null}},
    "y":{"aggregate":"mean","field":"v","type":"quantitative","title":"800 g at sea transfer","scale":{"domain":[-50,348],"nice":false,"zero":false},"axis":{"values":[0,100,200,300],"format":"d","titlePadding":22}}}},
  {"mark":{"type":"rule","color":"black","strokeWidth":2.5},"encoding":{"y":{"datum":0}}},
  {"transform":[{"bin":{"step":10,"extent":[-50,350],"nice":false},"field":"v","as":"vb"},{"window":[{"op":"row_number","as":"k"}],"groupby":["t","vb"],"sort":[{"field":"v"}]}],
   "mark":{"type":"point","filled":true,"opacity":1,"size":100,"strokeWidth":0},
   "encoding":{"x":{"field":"t","type":"nominal"},"xOffset":{"field":"k","type":"nominal","scale":{"domain":[10,8,6,4,2,1,3,5,7,9,11]}},"y":{"field":"v","type":"quantitative","title":"800 g at sea transfer"},
    "color":{"field":"t","type":"nominal","scale":{"domain":["6","12"],"range":["#372f93","#ee4036"]},"legend":null},
    "shape":{"field":"t","type":"nominal","scale":{"domain":["6","12"],"range":["circle","square"]},"legend":null}}},
  {"mark":{"type":"errorbar","extent":"stderr","color":"black","thickness":1.5,"ticks":{"size":16}},"encoding":{"x":{"field":"t","type":"nominal"},"y":{"field":"v","type":"quantitative","title":"800 g at sea transfer"}}},
  {"mark":{"type":"tick","color":"black","thickness":3,"size":30},"encoding":{"x":{"field":"t","type":"nominal"},"y":{"aggregate":"mean","field":"v","type":"quantitative","title":"800 g at sea transfer"}}},
  {"data":{"values":[{"a":"6","b":"12","y":311,"y0":293}]},"layer":[
   {"mark":{"type":"rule","color":"black","strokeWidth":2.5},"encoding":{"x":{"field":"a","type":"nominal"},"x2":{"field":"b"},"y":{"field":"y","type":"quantitative","title":"800 g at sea transfer"}}},
   {"mark":{"type":"rule","color":"black","strokeWidth":2.5},"encoding":{"x":{"field":"a","type":"nominal"},"y":{"field":"y","type":"quantitative","title":"800 g at sea transfer"},"y2":{"field":"y0"}}},
   {"mark":{"type":"rule","color":"black","strokeWidth":2.5},"encoding":{"x":{"field":"b","type":"nominal"},"y":{"field":"y","type":"quantitative","title":"800 g at sea transfer"},"y2":{"field":"y0"}}},
   {"mark":{"type":"text","text":"*","fontSize":18,"fontWeight":"bold","dx":44.5,"dy":-11,"color":"black"},"encoding":{"x":{"field":"a","type":"nominal"},"y":{"field":"y","type":"quantitative","title":"800 g at sea transfer"}}}]},
  {"mark":{"type":"rule","color":"black","strokeWidth":3,"strokeDash":[2.5,2.5],"xOffset":-168.5,"x2Offset":1090.5},"encoding":{"x":{"datum":"6"},"x2":{"datum":"12"},"y":{"datum":368}}},
  {"mark":{"type":"rule","color":"black","strokeWidth":6,"xOffset":-143.5},"encoding":{"x":{"datum":"6"},"y":{"datum":402},"y2":{"datum":334}}},
  {"mark":{"type":"point","shape":"triangle-up","filled":true,"opacity":1,"color":"black","size":420,"xOffset":-143.5},"encoding":{"x":{"datum":"6"},"y":{"datum":404}}},
  {"mark":{"type":"point","shape":"triangle-down","filled":true,"opacity":1,"color":"black","size":420,"xOffset":-143.5},"encoding":{"x":{"datum":"6"},"y":{"datum":332}}}
 ]},
{"width":195,"height":298,"data":{"name":"glu2"},
 "layer":[
  {"transform":[{"bin":{"step":0.16,"extent":[3,9.4],"nice":false},"field":"v","as":"vb"},{"window":[{"op":"row_number","as":"k"}],"groupby":["t","vb"],"sort":[{"field":"v"}]}],
   "mark":{"type":"point","filled":true,"opacity":1,"size":72,"strokeWidth":0},
   "encoding":{"x":{"field":"t","type":"nominal","scale":{"domain":["6","12"],"paddingInner":0,"paddingOuter":0.0955,"align":0.91},"axis":{"labelExpr":"datum.label + ' °C'","title":null}},"xOffset":{"field":"k","type":"nominal","scale":{"domain":[10,8,6,4,2,1,3,5,7,9,11]}},
    "y":{"field":"v","type":"quantitative","scale":{"domain":[3,9.5],"nice":false,"zero":false},"axis":{"values":[4,6,8],"format":"d","title":null}},
    "color":{"field":"t","type":"nominal","scale":{"domain":["6","12"],"range":["#372f93","#ee4036"]},"legend":null},
    "shape":{"field":"t","type":"nominal","scale":{"domain":["6","12"],"range":["circle","square"]},"legend":null}}},
  {"mark":{"type":"errorbar","extent":"stderr","color":"black","thickness":1.5,"ticks":{"size":16}},"encoding":{"x":{"field":"t","type":"nominal"},"y":{"field":"v","type":"quantitative"}}},
  {"mark":{"type":"tick","color":"black","thickness":3,"size":62},"encoding":{"x":{"field":"t","type":"nominal"},"y":{"aggregate":"mean","field":"v","type":"quantitative"}}},
  {"data":{"values":[{"a":"6","b":"12","y":8.79,"y0":8.45}]},"layer":[
   {"mark":{"type":"rule","color":"black","strokeWidth":2.5},"encoding":{"x":{"field":"a","type":"nominal"},"x2":{"field":"b"},"y":{"field":"y","type":"quantitative"}}},
   {"mark":{"type":"rule","color":"black","strokeWidth":2.5},"encoding":{"x":{"field":"a","type":"nominal"},"y":{"field":"y","type":"quantitative"},"y2":{"field":"y0"}}},
   {"mark":{"type":"rule","color":"black","strokeWidth":2.5},"encoding":{"x":{"field":"b","type":"nominal"},"y":{"field":"y","type":"quantitative"},"y2":{"field":"y0"}}},
   {"mark":{"type":"text","text":"*","fontSize":18,"fontWeight":"bold","dx":44.5,"dy":-11,"color":"black"},"encoding":{"x":{"field":"a","type":"nominal"},"y":{"field":"y","type":"quantitative"}}}]}
 ]},
{"width":195,"height":298,"data":{"name":"tri2"},
 "layer":[
  {"transform":[{"bin":{"step":0.2,"extent":[0,7],"nice":false},"field":"v","as":"vb"},{"window":[{"op":"row_number","as":"k"}],"groupby":["t","vb"],"sort":[{"field":"v"}]}],
   "mark":{"type":"point","filled":true,"opacity":1,"size":72,"strokeWidth":0},
   "encoding":{"x":{"field":"t","type":"nominal","scale":{"domain":["6","12"],"paddingInner":0,"paddingOuter":0.0955,"align":0.91},"axis":{"labelExpr":"datum.label + ' °C'","title":"Water Temperature After Sea Transfer","titleFontSize":25,"titlePadding":22,"titleX":80}},"xOffset":{"field":"k","type":"nominal","scale":{"domain":[10,8,6,4,2,1,3,5,7,9,11]}},
    "y":{"field":"v","type":"quantitative","scale":{"domain":[0,7],"nice":false,"zero":false},"axis":{"values":[0,2,4,6],"format":"d","title":null}},
    "color":{"field":"t","type":"nominal","scale":{"domain":["6","12"],"range":["#372f93","#ee4036"]},"legend":null},
    "shape":{"field":"t","type":"nominal","scale":{"domain":["6","12"],"range":["circle","square"]},"legend":null}}},
  {"mark":{"type":"errorbar","extent":"stderr","color":"black","thickness":1.5,"ticks":{"size":16}},"encoding":{"x":{"field":"t","type":"nominal"},"y":{"field":"v","type":"quantitative"}}},
  {"mark":{"type":"tick","color":"black","thickness":3,"size":58},"encoding":{"x":{"field":"t","type":"nominal"},"y":{"aggregate":"mean","field":"v","type":"quantitative"}}}
 ]},
{"width":195,"height":298,"data":{"name":"cho2"},
 "layer":[
  {"transform":[{"bin":{"step":0.5,"extent":[0,20],"nice":false},"field":"v","as":"vb"},{"window":[{"op":"row_number","as":"k"}],"groupby":["t","vb"],"sort":[{"field":"v"}]}],
   "mark":{"type":"point","filled":true,"opacity":1,"size":72,"strokeWidth":0},
   "encoding":{"x":{"field":"t","type":"nominal","scale":{"domain":["6","12"],"paddingInner":0,"paddingOuter":0.0955,"align":0.91},"axis":{"labelExpr":"datum.label + ' °C'","title":null}},"xOffset":{"field":"k","type":"nominal","scale":{"domain":[10,8,6,4,2,1,3,5,7,9,11]}},
    "y":{"field":"v","type":"quantitative","scale":{"domain":[0,20],"nice":false,"zero":false},"axis":{"values":[0,5,10,15,20],"format":"d","title":null}},
    "color":{"field":"t","type":"nominal","scale":{"domain":["6","12"],"range":["#372f93","#ee4036"]},"legend":null},
    "shape":{"field":"t","type":"nominal","scale":{"domain":["6","12"],"range":["circle","square"]},"legend":null}}},
  {"mark":{"type":"errorbar","extent":"stderr","color":"black","thickness":1.5,"ticks":{"size":16}},"encoding":{"x":{"field":"t","type":"nominal"},"y":{"field":"v","type":"quantitative"}}},
  {"mark":{"type":"tick","color":"black","thickness":3,"size":58},"encoding":{"x":{"field":"t","type":"nominal"},"y":{"aggregate":"mean","field":"v","type":"quantitative"}}},
  {"data":{"values":[{"a":"6","b":"12","y":18.2,"y0":17.25}]},"layer":[
   {"mark":{"type":"rule","color":"black","strokeWidth":2.5},"encoding":{"x":{"field":"a","type":"nominal"},"x2":{"field":"b"},"y":{"field":"y","type":"quantitative"}}},
   {"mark":{"type":"rule","color":"black","strokeWidth":2.5},"encoding":{"x":{"field":"a","type":"nominal"},"y":{"field":"y","type":"quantitative"},"y2":{"field":"y0"}}},
   {"mark":{"type":"rule","color":"black","strokeWidth":2.5},"encoding":{"x":{"field":"b","type":"nominal"},"y":{"field":"y","type":"quantitative"},"y2":{"field":"y0"}}},
   {"mark":{"type":"text","text":"*","fontSize":18,"fontWeight":"bold","dx":44.5,"dy":-11,"color":"black"},"encoding":{"x":{"field":"a","type":"nominal"},"y":{"field":"y","type":"quantitative"}}}]}
 ]},
{"width":195,"height":298,"data":{"name":"pro2"},
 "layer":[
  {"transform":[{"bin":{"step":1.75,"extent":[30,94.75],"nice":false},"field":"v","as":"vb"},{"window":[{"op":"row_number","as":"k"}],"groupby":["t","vb"],"sort":[{"field":"v"}]}],
   "mark":{"type":"point","filled":true,"opacity":1,"size":72,"strokeWidth":0},
   "encoding":{"x":{"field":"t","type":"nominal","scale":{"domain":["6","12"],"paddingInner":0,"paddingOuter":0.0955,"align":0.91},"axis":{"labelExpr":"datum.label + ' °C'","title":null}},"xOffset":{"field":"k","type":"nominal","scale":{"domain":[10,8,6,4,2,1,3,5,7,9,11]}},
    "y":{"field":"v","type":"quantitative","scale":{"domain":[30,94.6],"nice":false,"zero":false},"axis":{"values":[40,60,80],"format":"d","title":null}},
    "color":{"field":"t","type":"nominal","scale":{"domain":["6","12"],"range":["#372f93","#ee4036"]},"legend":null},
    "shape":{"field":"t","type":"nominal","scale":{"domain":["6","12"],"range":["circle","square"]},"legend":null}}},
  {"mark":{"type":"errorbar","extent":"stderr","color":"black","thickness":1.5,"ticks":{"size":16}},"encoding":{"x":{"field":"t","type":"nominal"},"y":{"field":"v","type":"quantitative"}}},
  {"mark":{"type":"tick","color":"black","thickness":3,"size":58},"encoding":{"x":{"field":"t","type":"nominal"},"y":{"aggregate":"mean","field":"v","type":"quantitative"}}},
  {"data":{"values":[{"a":"6","b":"12","y":88.6,"y0":85.4}]},"layer":[
   {"mark":{"type":"rule","color":"black","strokeWidth":2.5},"encoding":{"x":{"field":"a","type":"nominal"},"x2":{"field":"b"},"y":{"field":"y","type":"quantitative"}}},
   {"mark":{"type":"rule","color":"black","strokeWidth":2.5},"encoding":{"x":{"field":"a","type":"nominal"},"y":{"field":"y","type":"quantitative"},"y2":{"field":"y0"}}},
   {"mark":{"type":"rule","color":"black","strokeWidth":2.5},"encoding":{"x":{"field":"b","type":"nominal"},"y":{"field":"y","type":"quantitative"},"y2":{"field":"y0"}}},
   {"mark":{"type":"text","text":"*","fontSize":18,"fontWeight":"bold","dx":44.5,"dy":-11,"color":"black"},"encoding":{"x":{"field":"a","type":"nominal"},"y":{"field":"y","type":"quantitative"}}}]}
 ]}
]
}
